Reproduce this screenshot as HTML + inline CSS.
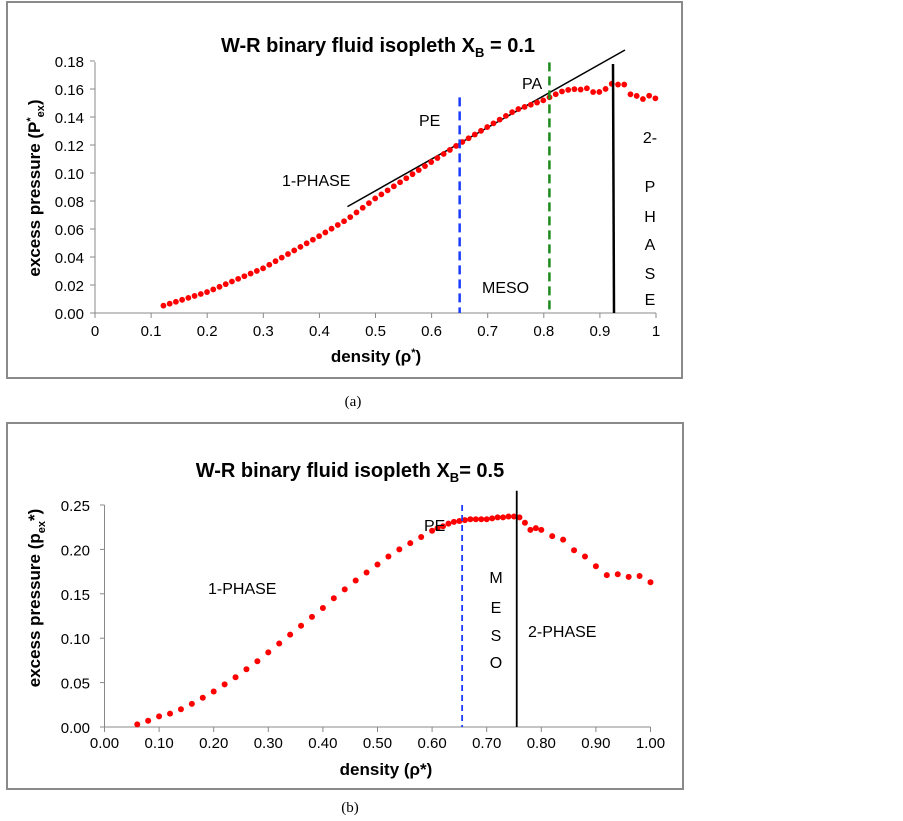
<!DOCTYPE html>
<html><head><meta charset="utf-8"><style>
body{margin:0;background:#fff;width:903px;height:821px;overflow:hidden}
svg{position:absolute;left:0;top:0}
text{font-family:"Liberation Sans",sans-serif}
</style></head><body>
<svg id="s" width="903" height="821" xmlns="http://www.w3.org/2000/svg">
<rect x="7" y="2" width="675" height="376" fill="#fff" stroke="#8a8a8a" stroke-width="2"/>
<rect x="7" y="423" width="676" height="366" fill="#fff" stroke="#8a8a8a" stroke-width="2"/>
<g id="a"></g><g id="b"></g>
<text x="378" y="52" font-size="20" font-weight="bold" text-anchor="middle">W-R binary fluid isopleth X<tspan font-size="13" dy="5">B</tspan><tspan dy="-5"> = 0.1</tspan></text>
<text x="376" y="362" font-size="17" font-weight="bold" text-anchor="middle">density (ρ<tspan font-size="11" dy="-6">*</tspan><tspan dy="6">)</tspan></text>
<text transform="translate(40,188) rotate(-90)" font-size="17" font-weight="bold" text-anchor="middle">excess pressure (P<tspan font-size="11" dy="-6">*</tspan><tspan font-size="11" dy="10">ex</tspan><tspan dy="-4">)</tspan></text>
<text x="419" y="126" font-size="16">PE</text>
<text x="522" y="89" font-size="16">PA</text>
<text x="282" y="186" font-size="16">1-PHASE</text>
<text x="482" y="293" font-size="16">MESO</text>
<g font-size="16" text-anchor="middle"><text x="650" y="143">2-</text><text x="650" y="192">P</text><text x="650" y="222">H</text><text x="650" y="250">A</text><text x="650" y="279">S</text><text x="650" y="305">E</text></g>
<text x="353" y="406" font-size="15" text-anchor="middle" style="font-family:'Liberation Serif',serif">(a)</text>
<text x="350" y="477" font-size="20" font-weight="bold" text-anchor="middle">W-R binary fluid isopleth X<tspan font-size="13" dy="5">B</tspan><tspan dy="-5">= 0.5</tspan></text>
<text x="386" y="775" font-size="17" font-weight="bold" text-anchor="middle">density (ρ*)</text>
<text transform="translate(40,598) rotate(-90)" font-size="17" font-weight="bold" text-anchor="middle">excess pressure (p<tspan font-size="11" dy="5">ex</tspan><tspan dy="-5">*)</tspan></text>
<text x="424" y="531" font-size="16">PE</text>
<text x="208" y="594" font-size="16">1-PHASE</text>
<text x="528" y="637" font-size="16">2-PHASE</text>
<g font-size="16" text-anchor="middle"><text x="496" y="583">M</text><text x="496" y="613">E</text><text x="496" y="641">S</text><text x="496" y="668">O</text></g>
<text x="350" y="812" font-size="15" text-anchor="middle" style="font-family:'Liberation Serif',serif">(b)</text>
</svg>
<script>
var NS="http://www.w3.org/2000/svg";
function el(p,t,a){var e=document.createElementNS(NS,t);for(var k in a)e.setAttribute(k,a[k]);p.appendChild(e);return e;}
function interp(d,x){for(var i=0;i<d.length-1;i++){if(x<=d[i+1][0]){var t=(x-d[i][0])/(d[i+1][0]-d[i][0]);return d[i][1]+t*(d[i+1][1]-d[i][1]);}}return d[d.length-1][1];}
var g=document.getElementById('a');
var X=function(v){return 95+v*561},Y=function(v){return 313-v*1400};
el(g,'line',{x1:95,y1:62,x2:95,y2:313,stroke:'#888'});
el(g,'line',{x1:95,y1:313,x2:656,y2:313,stroke:'#888'});
for(var i=0;i<=9;i++){var v=i*0.02;el(g,'line',{x1:90,x2:95,y1:Y(v),y2:Y(v),stroke:'#888'});var t=el(g,'text',{x:84,y:Y(v)+6,'font-size':15,'text-anchor':'end'});t.textContent=v.toFixed(2);}
for(var i=0;i<=10;i++){var x=X(i/10);el(g,'line',{x1:x,x2:x,y1:313,y2:318,stroke:'#888'});var t=el(g,'text',{x:x,y:336,'font-size':15,'text-anchor':'middle'});t.textContent=i==0?'0':i==10?'1':(i/10).toFixed(1);}
var da=[[0.12,0.005],[0.2,0.015],[0.3,0.032],[0.4,0.055],[0.45,0.067],[0.5,0.082],[0.6,0.108],[0.65,0.121],[0.7,0.133],[0.75,0.145],[0.8,0.152],[0.83,0.158],[0.85,0.160],[0.87,0.1595],[0.88,0.161],[0.89,0.157],[0.9,0.158],[0.91,0.160],[0.925,0.165],[0.937,0.162],[0.948,0.164],[0.958,0.152],[0.968,0.156],[0.979,0.152],[0.99,0.156],[1.0,0.153]];
el(g,'line',{x1:X(0.45),y1:Y(0.076),x2:625,y2:50,stroke:'#000','stroke-width':1.5});
for(var v=0.122;v<=1.001;v+=0.0111){el(g,'circle',{cx:X(v),cy:Y(interp(da,v)),r:2.9,fill:'#f00'});}
el(g,'line',{x1:X(0.65),y1:Y(0.154),x2:X(0.65),y2:313,stroke:'#1a3cff','stroke-width':2.5,'stroke-dasharray':'9,5'});
el(g,'line',{x1:X(0.81),y1:Y(0.179),x2:X(0.81),y2:313,stroke:'#1a8a1a','stroke-width':2.5,'stroke-dasharray':'9,5'});
el(g,'line',{x1:613,y1:64,x2:614,y2:313,stroke:'#000','stroke-width':2.5});
g=document.getElementById('b');
X=function(v){return 104.5+v*546},Y=function(v){return 727-v*888};
el(g,'line',{x1:104.5,y1:505,x2:104.5,y2:727,stroke:'#888'});
el(g,'line',{x1:104.5,y1:727,x2:650.5,y2:727,stroke:'#888'});
for(var i=0;i<=5;i++){var v=i*0.05;el(g,'line',{x1:100,x2:104.5,y1:Y(v),y2:Y(v),stroke:'#888'});var t=el(g,'text',{x:90,y:Y(v)+6,'font-size':15,'text-anchor':'end'});t.textContent=v.toFixed(2);}
for(var i=0;i<=10;i++){var x=X(i/10);el(g,'line',{x1:x,x2:x,y1:727,y2:732,stroke:'#888'});var t=el(g,'text',{x:x,y:748,'font-size':15,'text-anchor':'middle'});t.textContent=(i/10).toFixed(2);}
var db=[[0.06,.003],[0.08,.007],[.10,.012],[.12,.015],[.14,.02],[.16,.026],[.18,.033],[.20,.04],[.22,.048],[.24,.056],[.26,.065],[.28,.074],[.30,.084],[.32,.094],[.34,.104],[.36,.114],[.38,.124],[.40,.134],[.42,.145],[.44,.155],[.46,.165],[.48,.174],[.50,.183],[.52,.192],[.54,.2],[.56,.207],[.58,.214],[.60,.221],[.61,.224],[.62,.226],[.63,.229],[.64,.231],[.65,.232],[.66,.233],[.67,.234],[.68,.234],[.69,.234],[.70,.234],[.71,.235],[.72,.236],[.73,.236],[.74,.237],[.75,.237],[.76,.236],[.77,.23],[.78,.222],[.79,.224],[.80,.222],[.82,.215],[.84,.211],[.86,.199],[.88,.192],[.90,.181],[.92,.171],[.94,.172],[.96,.169],[.98,.17],[1.0,.163]];
db.forEach(function(p){el(g,'circle',{cx:X(p[0]),cy:Y(p[1]),r:3,fill:'#f00'});});
el(g,'line',{x1:X(0.655),y1:Y(0.25),x2:X(0.655),y2:727,stroke:'#1a3cff','stroke-width':1.8,'stroke-dasharray':'6,4'});
el(g,'line',{x1:X(0.755),y1:Y(0.266),x2:X(0.755),y2:727,stroke:'#000','stroke-width':1.8});
</script>
</body></html>
